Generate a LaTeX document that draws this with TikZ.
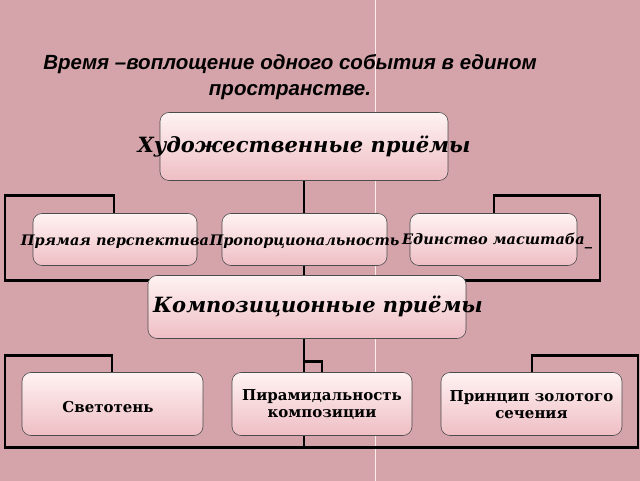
\documentclass[tikz,border=0pt]{standalone}
\usepackage{fontspec}
\setmainfont{DejaVu Serif}
\newfontfamily\titlefont{Liberation Sans}
\definecolor{bgpink}{RGB}{212,164,170}
\definecolor{boxpink}{RGB}{238,190,196}
\begin{document}
\begin{tikzpicture}[x=1pt,y=-1pt,
  box/.style={draw=black!70,rounded corners=9pt,top color=white!80!pink,bottom color=boxpink,line width=0.6pt},
  ln/.style={line width=2.2pt,black},
  it/.style={font=\bfseries\itshape\fontsize{14.5}{16}\selectfont},
  up/.style={font=\bfseries\fontsize{15}{17}\selectfont,align=center}]
\fill[bgpink] (0,0) rectangle (640,480);
\draw[white!70!pink,line width=1pt] (375,0) -- (375,480);
\node[font=\titlefont\bfseries\itshape\fontsize{20.5}{26}\selectfont,align=center] (t) at (290,77) {Время –воплощение одного события в едином\\пространстве.};
\coordinate (c1) at (304,180);
\coordinate (c2) at (304,280);
\draw[ln] (c1) -- (c2);
\draw[ln] (114,213) -- (114,195) -- (5,195) -- (5,280) -- (600,280) -- (600,195) -- (494,195) -- (494,213);
\coordinate (d1) at (304,338);
\coordinate (d2) at (304,447);
\draw[ln] (d1) -- (d2);
\draw[ln] (112,372) -- (112,355) -- (5,355) -- (5,447) -- (638,447) -- (638,355) -- (532,355) -- (532,372);
\draw[ln] (304,361) -- (322,361) -- (322,372);
\node[box,minimum width=288pt,minimum height=68pt] (h) at (304,146) {};
\node[font=\bfseries\itshape\fontsize{21}{24}\selectfont] (ht) at (304,146) {Художественные приёмы};
\node[box,minimum width=164pt,minimum height=52pt] (a) at (115,239) {};
\node[box,minimum width=165pt,minimum height=52pt] (b) at (304.5,239) {};
\node[box,minimum width=167pt,minimum height=52pt] (c) at (493.5,239) {};
\node[it] (at) at (115,241) {Прямая перспектива};
\node[it] (bt) at (304.5,241) {Пропорциональность};
\node[it] (ct) at (493.5,241) {Единство масштаба\rlap{\raisebox{-1pt}{\_}}};
\node[box,minimum width=318pt,minimum height=63pt] (k) at (307,306.5) {};
\node[font=\bfseries\itshape\fontsize{21}{24}\selectfont] (kt) at (318,306) {Композиционные приёмы};
\node[box,minimum width=181pt,minimum height=63pt] (s) at (112.5,403.5) {};
\node[box,minimum width=180pt,minimum height=63pt] (p) at (322,403.5) {};
\node[box,minimum width=181pt,minimum height=63pt] (z) at (531.5,403.5) {};
\node[up] (st) at (108,407) {Светотень};
\node[up] (pt) at (322,404) {Пирамидальность\\композиции};
\node[up] (zt) at (531.5,404) {Принцип золотого\\сечения};
\end{tikzpicture}
\end{document}
